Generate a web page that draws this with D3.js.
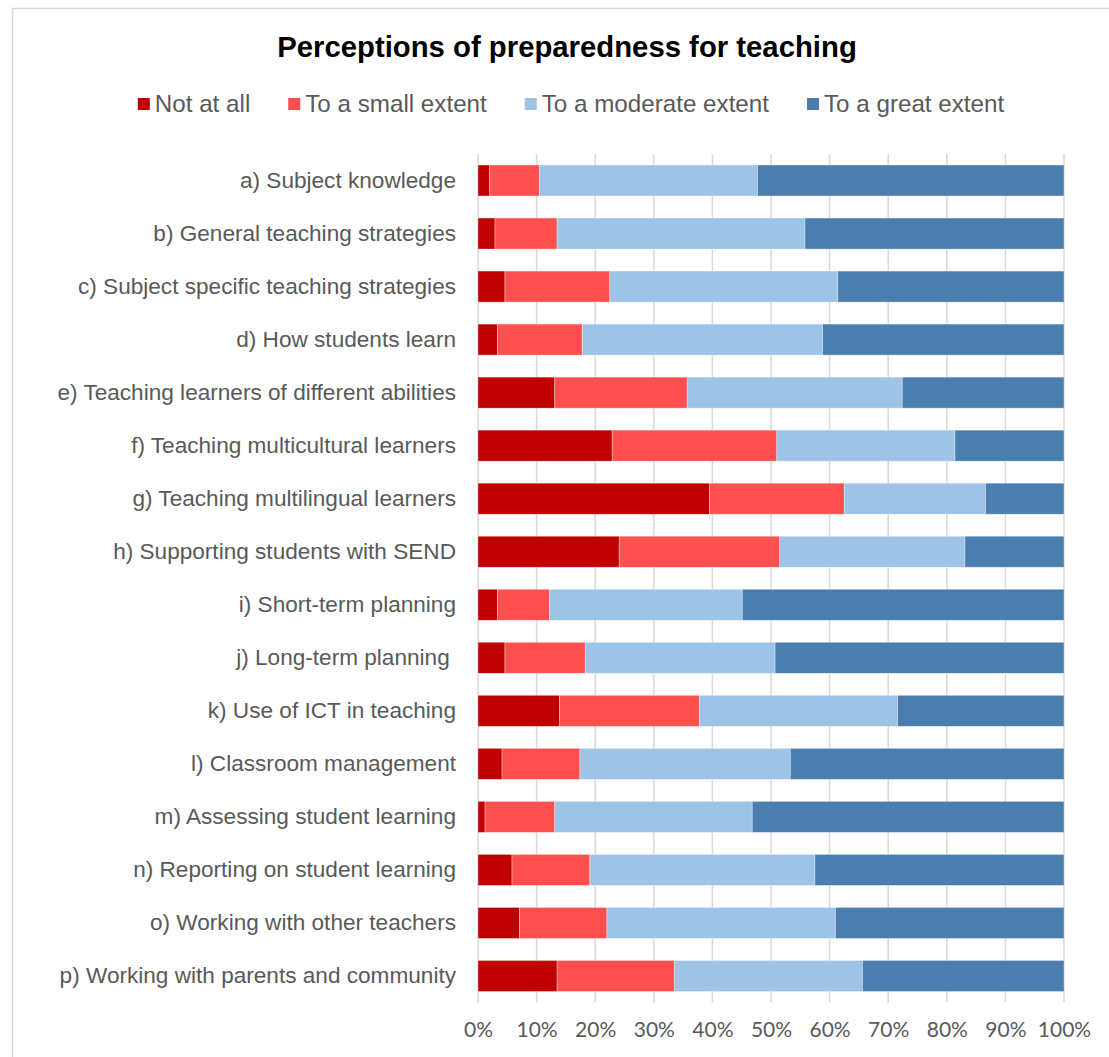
<!DOCTYPE html>
<html>
<head>
<meta charset="utf-8">
<script src="https://cdn.jsdelivr.net/npm/d3@7"></script>
<style>
  html, body { margin: 0; padding: 0; background: #fff; }
  svg { display: block; }
  text { white-space: pre; }
</style>
</head>
<body>
<script>
// Survey items (rows, top to bottom)
const categories = [
  "a) Subject knowledge",
  "b) General teaching strategies",
  "c) Subject specific teaching strategies",
  "d) How students learn",
  "e) Teaching learners of different abilities",
  "f) Teaching multicultural learners",
  "g) Teaching multilingual learners",
  "h) Supporting students with SEND",
  "i) Short-term planning",
  "j) Long-term planning ",
  "k) Use of ICT in teaching",
  "l) Classroom management",
  "m) Assessing student learning",
  "n) Reporting on student learning",
  "o) Working with other teachers",
  "p) Working with parents and community"
];

// Response shares in percent, one value per item
const notAtAll      = [2.0, 2.9, 4.6, 3.3, 13.1, 22.9, 39.5, 24.1, 3.3, 4.6, 13.9, 4.1, 1.2, 5.8, 7.1, 13.5];
const smallExtent   = [8.5, 10.6, 17.9, 14.5, 22.6, 28.1, 23.0, 27.4, 8.9, 13.7, 23.9, 13.3, 11.9, 13.3, 14.9, 20.0];
const moderateExtent= [37.2, 42.3, 38.9, 41.0, 36.7, 30.4, 24.1, 31.6, 32.9, 32.4, 33.8, 35.9, 33.7, 38.4, 39.0, 32.1];
const greatExtent   = [52.3, 44.2, 38.6, 41.2, 27.6, 18.6, 13.4, 16.9, 54.9, 49.3, 28.4, 46.7, 53.2, 42.5, 39.0, 34.4];

const seriesNames = ["Not at all", "To a small extent", "To a moderate extent", "To a great extent"];
const seriesColors = ["#C00000", "#FF5050", "#9DC3E6", "#4A7EAF"];
const tickValues = [0, 0.1, 0.2, 0.3, 0.4, 0.5, 0.6, 0.7, 0.8, 0.9, 1.0];

const W = 1109, H = 1057;
const plot = { left: 478, right: 1064, top: 154, bottom: 1002.5 };

const svg = d3.select("body").append("svg")
  .attr("width", W).attr("height", H);

// Chart frame
svg.append("rect")
  .attr("x", 12.5).attr("y", 8.5)
  .attr("width", W + 10).attr("height", H + 10)
  .attr("fill", "#fff")
  .attr("stroke", "#D9D9D9")
  .attr("stroke-width", 1.5);

// Title
svg.append("text")
  .attr("x", 567).attr("y", 57)
  .attr("text-anchor", "middle")
  .attr("font-family", "'Liberation Sans', Arial, sans-serif")
  .attr("font-weight", "bold")
  .attr("font-size", 29.3)
  .attr("fill", "#000")
  .text("Perceptions of preparedness for teaching");

// Rows as proportions
const rows = categories.map((c, i) => ({
  category: c,
  [seriesNames[0]]: notAtAll[i] / 100,
  [seriesNames[1]]: smallExtent[i] / 100,
  [seriesNames[2]]: moderateExtent[i] / 100,
  [seriesNames[3]]: greatExtent[i] / 100
}));

const stacked = d3.stack().keys(seriesNames)(rows);

const x = d3.scaleLinear().domain([0, 1]).range([plot.left, plot.right]);
const y = d3.scaleBand().domain(categories)
  .range([plot.top, plot.bottom])
  .paddingInner(0.415).paddingOuter(0.2075);
const color = d3.scaleOrdinal().domain(seriesNames).range(seriesColors);

// Vertical gridlines
svg.append("g")
  .selectAll("line")
  .data(tickValues)
  .join("line")
  .attr("x1", d => x(d)).attr("x2", d => x(d))
  .attr("y1", plot.top).attr("y2", plot.bottom)
  .attr("stroke", "#D9D9D9")
  .attr("stroke-width", 1.5);

// Stacked bars
svg.append("g")
  .selectAll("g")
  .data(stacked)
  .join("g")
  .attr("fill", d => color(d.key))
  .selectAll("rect")
  .data(d => d)
  .join("rect")
  .attr("x", d => x(d[0]))
  .attr("width", d => x(d[1]) - x(d[0]))
  .attr("y", d => y(d.data.category))
  .attr("height", y.bandwidth())
  .attr("stroke", "#fff")
  .attr("stroke-opacity", 0.45)
  .attr("stroke-width", 0.75);

// Category axis labels
const yAxis = d3.axisLeft(y).tickSize(0).tickPadding(22);
const gy = svg.append("g").attr("transform", `translate(${plot.left},0)`).call(yAxis);
gy.select(".domain").remove();
gy.selectAll("text")
  .attr("font-family", "'Liberation Sans', Arial, sans-serif")
  .attr("font-size", 22.6)
  .attr("fill", "#595959");

// Percentage axis labels
const xAxis = d3.axisBottom(x).tickValues(tickValues).tickFormat(d3.format(".0%")).tickSize(0).tickPadding(20);
const gx = svg.append("g").attr("transform", `translate(0,${plot.bottom})`).call(xAxis);
gx.select(".domain").remove();
gx.selectAll("text")
  .attr("font-family", "Lato, 'Open Sans', sans-serif")
  .attr("font-size", 21)
  .attr("fill", "#595959");

// Legend
const legend = svg.append("g");
const items = legend.selectAll("g")
  .data(seriesNames)
  .join("g");
items.append("rect")
  .attr("width", 12).attr("height", 12)
  .attr("y", -6)
  .attr("fill", d => color(d));
items.append("text")
  .attr("x", 17)
  .attr("dy", "0.35em")
  .attr("font-family", "'Liberation Sans', Arial, sans-serif")
  .attr("font-size", 24.2)
  .attr("fill", "#595959")
  .text(d => d);

let cursor = 0;
const gap = 38;
items.each(function () {
  const g = d3.select(this);
  const w = 17 + g.select("text").node().getComputedTextLength();
  g.attr("transform", `translate(${cursor},0)`);
  cursor += w + gap;
});
const legendWidth = cursor - gap;
legend.attr("transform", `translate(${571 - legendWidth / 2},104)`);
</script>
</body>
</html>
